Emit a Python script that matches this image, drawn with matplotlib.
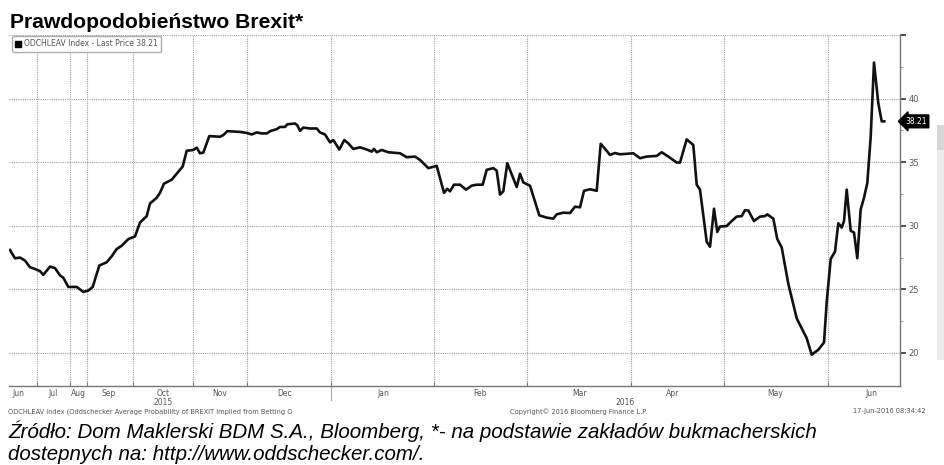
import matplotlib
matplotlib.use("Agg")
import matplotlib.pyplot as plt
from matplotlib.lines import Line2D
from matplotlib.patches import Rectangle
from matplotlib.transforms import blended_transform_factory

# position along the (irregular) Bloomberg index axis and the odds value
pos = [10, 15, 20, 25, 30, 35, 40, 43.3, 50, 55, 60, 63.3, 68.3, 76.7, 83.3, 88.3, 92.7,
       99.3, 106.7, 111.7, 116.7, 121.7, 128.3, 135, 140, 146.7, 150, 156.7, 160, 164,
       171.7, 176.7, 182.7, 186.7, 193.3, 196.7, 200, 203.3, 209.3, 220, 223.3, 227.3,
       240, 246.7, 251.7, 256.7, 261.7, 266.7, 270.7, 276.7, 280, 285, 287.3, 295, 297.3,
       300, 303.3, 310, 316.7, 320, 325, 330, 333.3, 339.3, 344.3, 348.3, 353.3, 360,
       366.7, 371.7, 374, 376.7, 381.7, 388.3, 400, 406.7, 415, 420, 428.3, 436.7, 444,
       447.3, 450, 454, 460, 466, 471.7, 476.7, 482.7, 486.7, 493.3, 496.7, 500, 503.3,
       507.3, 516.7, 520, 523.3, 530, 539.3, 546.7, 553.3, 556.7, 563.3, 570, 575, 580,
       584, 590, 596.7, 600.7, 605, 610, 615, 620, 633.3, 640, 646.7, 656.7, 661.7, 668.3,
       676.7, 680, 686.7, 693.3, 696.7, 700, 706.7, 710, 714, 717.3, 720, 726.7, 731.7,
       736.7, 741.7, 745, 748.3, 754, 760, 765, 767.3, 773.3, 777.3, 781.7, 788.3, 796.7,
       806.7, 811.7, 818.3, 824, 826.7, 830.7, 835, 838.3, 841.7, 844, 846.7, 850.7, 854,
       857.3, 860.7, 864, 867.3, 870.7, 874, 878.3, 881.7, 884.3]
odds = [28.09, 27.44, 27.5, 27.26, 26.74, 26.6, 26.43, 26.14, 26.79, 26.67, 26.1, 25.91,
        25.19, 25.19, 24.8, 24.9, 25.19, 26.87, 27.13, 27.6, 28.17, 28.43, 28.95, 29.16,
        30.25, 30.76, 31.75, 32.2, 32.59, 33.31, 33.62, 34.09, 34.66, 35.9, 35.96, 36.14,
        35.7, 35.75, 37.05, 37.0, 37.13, 37.44, 37.38, 37.3, 37.18, 37.34, 37.26, 37.26,
        37.46, 37.59, 37.77, 37.77, 37.98, 38.04, 37.9, 37.46, 37.72, 37.65, 37.65, 37.34,
        37.18, 36.56, 36.74, 36.0, 36.74, 36.48, 36.04, 36.17, 36.0, 35.83, 36.04, 35.78,
        35.96, 35.78, 35.7, 35.39, 35.44, 35.18, 34.53, 34.71, 32.59, 32.9, 32.71, 33.23,
        33.23, 32.84, 33.15, 33.23, 33.23, 34.4, 34.53, 34.34, 32.45, 32.71, 34.92, 33.05,
        34.09, 33.41, 33.15, 30.82, 30.64, 30.56, 30.9, 31.03, 31.0, 31.5, 31.45, 32.75,
        32.87, 32.75, 36.45, 36.05, 35.57, 35.72, 35.62, 35.7, 35.31, 35.44, 35.49, 35.78,
        35.44, 34.97, 34.97, 36.79, 36.35, 33.23, 32.84, 28.74, 28.35, 31.34, 29.52, 29.94,
        29.98, 30.37, 30.72, 30.76, 31.23, 31.2, 30.37, 30.72, 30.76, 30.9, 30.56, 28.95,
        28.3, 25.44, 22.72, 21.16, 19.86, 20.25, 20.82, 24.0, 27.39, 27.96, 30.2, 29.86,
        30.37, 32.84, 29.6, 29.47, 27.45, 31.29, 32.2, 33.36, 37.0, 42.83, 39.64, 38.21,
        38.21]

month_edges = [36.7, 70, 86.7, 133.3, 193.3, 247.3, 331, 434.3, 526.7, 631, 724, 828]
month_mid = [18, 53, 78, 109, 163, 220, 285, 383, 480, 580, 673, 775, 871]
month_labels = ["Jun", "Jul", "Aug", "Sep", "Oct", "Nov", "Dec", "Jan", "Feb", "Mar",
                "Apr", "May", "Jun"]
years = [(163, "2015"), (625, "2016")]
y_ticks = [20, 25, 30, 35, 40, 45]
last_price = 38.21

W, H = 945, 465
fig = plt.figure(figsize=(W / 100, H / 100), dpi=100)
fig.patch.set_facecolor("white")

left, right, top, bottom = 9, 900, 35, 386
ax = fig.add_axes([left / W, 1 - bottom / H, (right - left) / W, (bottom - top) / H])
ax.set_xlim(left, right)
ax.set_ylim(17.4, 45)

ax.plot(pos, odds, color="#111111", linewidth=1.9, solid_joinstyle="round", zorder=3)

grid_kw = dict(color="#a0a0a0", linewidth=0.8, linestyle=(0, (1, 1)), zorder=1)
for yv in y_ticks:
    ax.axhline(yv, **grid_kw)
for xv in month_edges:
    ax.axvline(xv, **grid_kw)

for side in ("left", "top"):
    ax.spines[side].set_visible(False)
for side in ("right", "bottom"):
    ax.spines[side].set_color("#777777")
    ax.spines[side].set_linewidth(1.0)

ax.yaxis.tick_right()
ax.set_yticks(y_ticks)
ax.set_yticklabels([str(v) if v < 45 else "" for v in y_ticks])
ax.set_yticks([22.5, 27.5, 32.5, 37.5, 42.5], minor=True)
ax.tick_params(axis="y", which="major", direction="out", length=4, width=1.2,
               colors="#333333", labelsize=6, labelcolor="#555555", pad=2)
ax.tick_params(axis="y", which="minor", direction="out", length=2, color="#888888")

ax.set_xticks(month_edges)
ax.set_xticklabels([])
ax.set_xticks(month_mid, minor=True)
ax.set_xticklabels(month_labels, minor=True)
ax.tick_params(axis="x", which="major", direction="in", length=3, color="#777777")
ax.tick_params(axis="x", which="minor", length=0, labelsize=5.5, labelcolor="#555555",
               pad=2)

trans = blended_transform_factory(ax.transData, ax.transAxes)
for xv, lab in years:
    ax.text(xv, -0.048, lab, transform=trans, ha="center", va="center", fontsize=5.5,
            color="#555555")
ax.plot([331, 331], [0, -0.04], transform=trans, color="#aaaaaa", linewidth=0.8,
        clip_on=False)

# last price tag
ytrans = blended_transform_factory(ax.transAxes, ax.transData)
ax.text(1.006, last_price, "38.21", transform=ytrans, ha="left", va="center",
        fontsize=5.5, color="white",
        bbox=dict(boxstyle="larrow,pad=0.25", fc="black", ec="black"))

handle = Line2D([], [], marker="s", color="black", linestyle="none", markersize=4.5)
leg = ax.legend([handle], ["ODCHLEAV Index - Last Price 38.21"], loc="upper left",
                bbox_to_anchor=(12 / W, 1 - 36 / H), bbox_transform=fig.transFigure,
                fontsize=5.5, frameon=True, fancybox=True, handletextpad=0.3,
                borderpad=0.45, handlelength=0.8, borderaxespad=0)
leg.get_frame().set_edgecolor("#999999")
leg.get_frame().set_linewidth(1.0)
for t in leg.get_texts():
    t.set_color("#555555")

# grey side panel
fig.patches.append(Rectangle((937 / W, 1 - 360 / H), 8 / W, 235 / H,
                             transform=fig.transFigure, fc="#ececec", ec="none"))
fig.patches.append(Rectangle((937 / W, 1 - 150 / H), 8 / W, 25 / H,
                             transform=fig.transFigure, fc="#d6d6d6", ec="none"))

sans = ["Liberation Sans", "DejaVu Sans"]
fig.text(10 / W, 1 - 28 / H, "Prawdopodobieństwo Brexit*", family=sans,
         fontsize=15.2, weight="bold", va="baseline", ha="left")

small = dict(fontsize=4.8, color="#555555", va="center")
fig.text(8 / W, 1 - 411.5 / H,
         "ODCHLEAV Index (Oddschecker Average Probability of BREXIT Implied from Betting O",
         ha="left", **small)
fig.text(510 / W, 1 - 411.5 / H, "Copyright© 2016 Bloomberg Finance L.P.", ha="left",
         **small)
fig.text(926 / W, 1 - 411.5 / H, "17-Jun-2016 08:34:42", ha="right", **small)

fig.text(8 / W, 1 - 438 / H,
         "Źródło: Dom Maklerski BDM S.A., Bloomberg, *- na podstawie zakładów bukmacherskich",
         family=sans, style="italic", fontsize=14.8, va="baseline", ha="left")
fig.text(8 / W, 1 - 460 / H, "dostepnych na: http://www.oddschecker.com/.",
         family=sans, style="italic", fontsize=14.8, va="baseline", ha="left")

fig.savefig("out.png", dpi=100)
